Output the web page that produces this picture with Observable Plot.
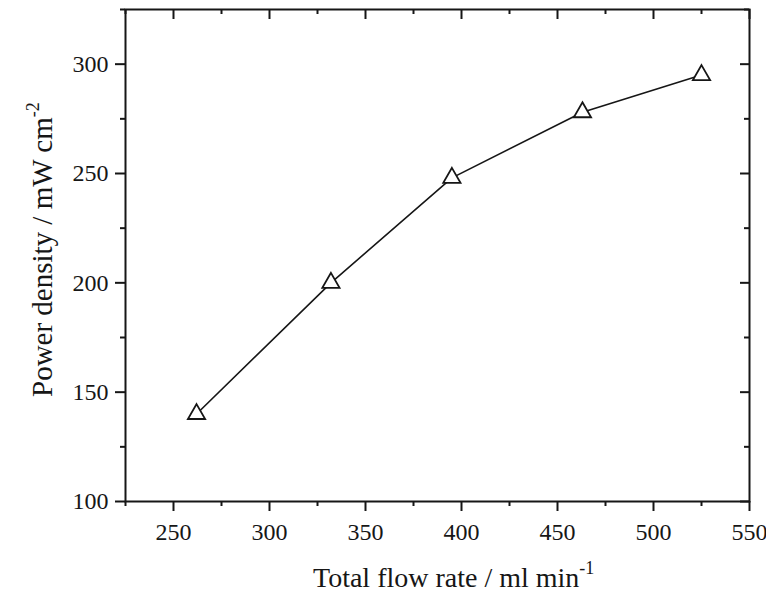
<!DOCTYPE html>
<html>
<head>
<meta charset="utf-8">
<script src="https://cdn.jsdelivr.net/npm/d3@7"></script>
<script src="https://cdn.jsdelivr.net/npm/@observablehq/plot@0.6"></script>
<style>
  html, body { margin: 0; padding: 0; background: #fff; }
  svg text { font-family: "Liberation Serif", "Times New Roman", serif !important; }
</style>
</head>
<body>
<div id="chart"></div>
<script>
const flowRate = [262, 332, 395, 463, 525];
const powerDensity = [140, 200, 248, 278, 295];
const xMajorTicks = [250, 300, 350, 400, 450, 500, 550];
const xMinorTicks = [225, 275, 325, 375, 425, 475, 525];
const yMajorTicks = [100, 150, 200, 250, 300];
const yMinorTicks = [125, 175, 225, 275, 325];
const xTitle = "Total flow rate / ml min";
const xTitleSup = "-1";
const yTitle = "Power density / mW cm";
const yTitleSup = "-2";

const data = flowRate.map((x, i) => ({x, y: powerDensity[i]}));

const W = 766, H = 593;
const mL = 125, mR = 17, mT = 9, mB = 92;
const pw = W - mL - mR, ph = H - mT - mB;
const ink = "#161616";
const fam = "'Liberation Serif', 'Times New Roman', serif";

const chart = Plot.plot({
  width: W,
  height: H,
  marginLeft: mL,
  marginRight: mR,
  marginTop: mT,
  marginBottom: mB,
  style: {fontFamily: fam, fontSize: "24px", color: ink, background: "#fff"},
  x: {domain: [225, 550]},
  y: {domain: [100, 325]},
  marks: [
    Plot.axisX({anchor: "bottom", ticks: xMajorTicks, tickSize: 10, tickPadding: 11, strokeWidth: 2, label: null, tickFormat: d => String(d)}),
    Plot.axisX({anchor: "bottom", ticks: xMinorTicks, tickSize: 5, strokeWidth: 2, label: null, text: null}),
    Plot.axisY({anchor: "left", ticks: yMajorTicks, tickSize: 10, tickPadding: 7, strokeWidth: 2, label: null, tickFormat: d => String(d)}),
    Plot.axisY({anchor: "left", ticks: yMinorTicks, tickSize: 5, strokeWidth: 2, label: null, text: null}),
    Plot.tickX(xMajorTicks, {x: d => d, insetBottom: ph - 10, stroke: ink, strokeWidth: 2}),
    Plot.tickX(xMinorTicks, {x: d => d, insetBottom: ph - 5, stroke: ink, strokeWidth: 2}),
    Plot.tickY(yMajorTicks, {y: d => d, insetLeft: pw - 9, stroke: ink, strokeWidth: 2}),
    Plot.tickY(yMinorTicks, {y: d => d, insetLeft: pw - 5, stroke: ink, strokeWidth: 2}),
    Plot.frame({stroke: ink, strokeWidth: 2}),
    Plot.line(data, {x: "x", y: "y", stroke: ink, strokeWidth: 1.6}),
    Plot.dot(data, {x: "x", y: "y", symbol: "triangle", r: 6.4, fill: "#fff", stroke: ink, strokeWidth: 1.8})
  ]
});

const svg = d3.select(chart);

const xt = svg.append("text")
  .attr("x", 313).attr("y", 587)
  .attr("text-anchor", "start")
  .attr("font-size", 28).attr("fill", ink);
xt.append("tspan").text(xTitle);
xt.append("tspan").attr("dy", -13).attr("font-size", 18).text(xTitleSup);

const yt = svg.append("text")
  .attr("transform", "translate(52,397) rotate(-90)")
  .attr("text-anchor", "start")
  .attr("font-size", 29).attr("fill", ink);
yt.append("tspan").text(yTitle);
yt.append("tspan").attr("dy", -13).attr("font-size", 18).text(yTitleSup);

svg.selectAll("text").attr("font-family", fam).style("font-family", fam);

document.getElementById("chart").appendChild(chart);
</script>
</body>
</html>
